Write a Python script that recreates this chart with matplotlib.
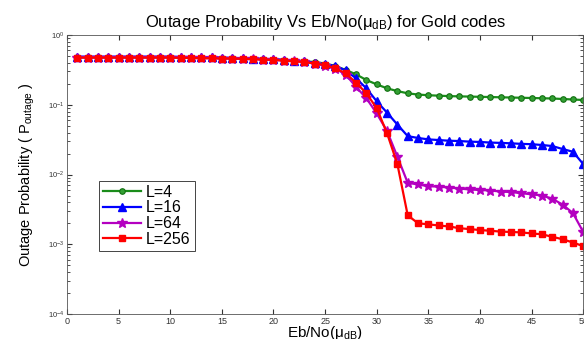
import matplotlib
matplotlib.use("Agg")
import matplotlib.pyplot as plt

plt.rcParams['font.family'] = ['Liberation Sans', 'DejaVu Sans']
plt.rcParams['mathtext.fontset'] = 'custom'
plt.rcParams['mathtext.rm'] = 'Liberation Sans'
plt.rcParams['mathtext.it'] = 'Liberation Sans'

ebno = list(range(1, 51))

# L=4
p_l4 = [0.48, 0.48, 0.48, 0.48, 0.48, 0.48, 0.48, 0.48, 0.48, 0.48,
        0.475, 0.475, 0.47, 0.47, 0.47, 0.465, 0.46, 0.46, 0.45, 0.445,
        0.44, 0.43, 0.42, 0.41, 0.39, 0.36, 0.315, 0.273, 0.226, 0.196,
        0.172, 0.157, 0.146, 0.140, 0.137, 0.135, 0.133, 0.132, 0.131, 0.130,
        0.129, 0.128, 0.127, 0.126, 0.125, 0.124, 0.123, 0.121, 0.119, 0.117]
# L=16
p_l16 = [0.49, 0.49, 0.49, 0.49, 0.49, 0.49, 0.49, 0.49, 0.49, 0.49,
         0.485, 0.485, 0.48, 0.48, 0.475, 0.47, 0.465, 0.46, 0.455, 0.45,
         0.44, 0.43, 0.42, 0.40, 0.38, 0.36, 0.31, 0.239, 0.172, 0.112,
         0.077, 0.052, 0.0355, 0.0334, 0.0319, 0.0312, 0.0305, 0.0302, 0.0296, 0.0293,
         0.0287, 0.0284, 0.028, 0.0275, 0.0272, 0.0265, 0.0256, 0.0232, 0.0212, 0.0141]
# L=64
p_l64 = [0.475, 0.475, 0.475, 0.475, 0.475, 0.475, 0.475, 0.475, 0.475, 0.475,
         0.47, 0.47, 0.465, 0.465, 0.46, 0.46, 0.455, 0.45, 0.445, 0.44,
         0.43, 0.42, 0.41, 0.39, 0.36, 0.33, 0.27, 0.18, 0.124, 0.075,
         0.042, 0.018, 0.0076, 0.0072, 0.0068, 0.0067, 0.0065, 0.0063, 0.0061, 0.006,
         0.0059, 0.0057, 0.0056, 0.0054, 0.0052, 0.005, 0.0045, 0.0037, 0.0028, 0.0015]
# L=256
p_l256 = [0.475, 0.475, 0.475, 0.475, 0.475, 0.475, 0.475, 0.475, 0.475, 0.475,
          0.47, 0.47, 0.465, 0.465, 0.46, 0.46, 0.455, 0.45, 0.445, 0.44,
          0.43, 0.42, 0.41, 0.39, 0.37, 0.333, 0.282, 0.207, 0.146, 0.089,
          0.039, 0.0141, 0.0026, 0.002, 0.00193, 0.00186, 0.0018, 0.0017, 0.00165, 0.0016,
          0.00156, 0.00152, 0.0015, 0.00148, 0.00143, 0.00139, 0.00128, 0.00118, 0.00106, 0.00094]

fig = plt.figure(figsize=(5.84, 3.39), dpi=100)
ax = fig.add_axes([0.1147, 0.0737, 0.884, 0.823])

ax.semilogy(ebno, p_l4, color='#1a8c1a', marker='o', markersize=4, markerfacecolor='#33a033',
            markeredgecolor='#127012', markeredgewidth=0.8, lw=1.6, label='L=4')
ax.semilogy(ebno, p_l16, color='#0000ff', marker='^', markersize=5.5, lw=1.6, label='L=16')
ax.semilogy(ebno, p_l64, color='#b400c0', marker='*', markersize=7, lw=1.6, label='L=64')
ax.semilogy(ebno, p_l256, color='#ff0000', marker='s', markersize=4.5, lw=1.6, label='L=256')

ax.set_xlim(0, 50)
ax.set_ylim(1e-4, 1)
ax.set_xticks(range(0, 51, 5))
ax.tick_params(which='both', direction='in', top=True, right=True, colors='#333333')
ax.tick_params(axis='x', labelsize=6.5, pad=2)
ax.tick_params(axis='y', labelsize=5.5, pad=2)
for s in ax.spines.values():
    s.set_color('#555555')
    s.set_linewidth(0.6)

ax.set_title(r'Outage Probability Vs Eb/No($\mu_{\rm dB}$) for Gold codes', fontsize=12, pad=6)
ax.set_xlabel(r'Eb/No($\mu_{\rm dB}$)', fontsize=11, labelpad=-1)
ax.set_ylabel(r'Outage Probability ( P$_{\rm outage}$ )', fontsize=10.5, labelpad=8)

leg = ax.legend(loc='lower left', bbox_to_anchor=(0.062, 0.226), fontsize=11.5,
                fancybox=False, framealpha=1, edgecolor='#444444', handlelength=2.4,
                borderpad=0.25, labelspacing=0.05, handletextpad=0.3, borderaxespad=0)
leg.get_frame().set_linewidth(0.7)

fig.savefig('out.png', dpi=100)
